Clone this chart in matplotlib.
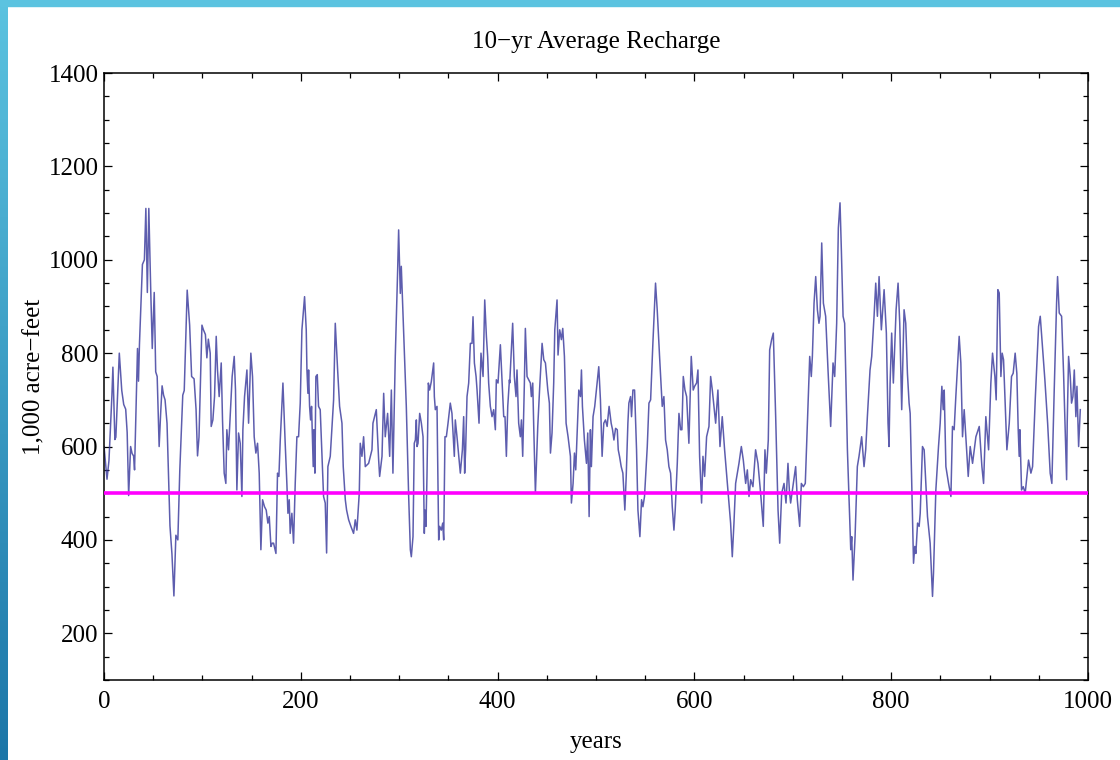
import numpy as np
import matplotlib
matplotlib.use("Agg")
import matplotlib.pyplot as plt
from matplotlib.ticker import MultipleLocator
from matplotlib.patches import Rectangle

plt.rcParams['font.family'] = ['Liberation Serif', 'DejaVu Serif']

# 10-yr moving average of recharge (years, 1,000 acre-feet)
years = [0, 3, 5, 8, 9, 11, 12, 15.5, 17, 18, 20, 22, 23.5, 25, 27, 28.5, 30, 31, 34, 35, 36, 39, 41, 42.5, 44,
         45.5, 47.5, 49, 51, 52.5, 54, 56, 57.5, 59, 60.5, 62, 64, 67, 69, 71, 73, 75, 77, 80, 81.5, 84.5, 87,
         89, 91.5, 93.5, 95, 96.5, 99.5, 101, 103, 104.5, 106,
         107.9, 108.9, 110.6, 112.3, 114, 115.3, 117, 119.1, 120.4, 122.1, 123.8, 124.8, 126.5, 128.2, 130.2,
         132.3, 133.6, 135, 136.7, 138.4, 140.1, 141.1, 142.8, 145.2, 146.9, 149.2, 150.9, 152.6, 154.3, 156,
         157.7, 159.4, 161.1, 163.1, 164.8, 166.5, 167.9, 169.6, 170.9, 172.3, 174.7, 176.3, 177.7, 179.1,
         181.8, 184.1, 185.8, 186.9, 188.2, 189.2, 190.9, 192.6, 194.3, 196, 197.7, 199.4, 201.1, 203.8,
         205.5, 206.2, 207.2, 207.9, 208.9, 209.9, 210.9, 211.6, 212.6, 213.3, 214.3, 215.3, 216.7, 218,
         219.7, 221.4, 223.1, 224.8, 226.2, 227.5, 229.9, 233.3, 235, 237.4, 239.4, 241.8, 243.1, 245.2,
         246.5, 248.6, 250.9, 253.6, 255.3, 257, 259.4, 260.4, 262.1, 263.8, 265.5, 268.9, 272.3, 273.3,
         276.7, 279.1, 280.1, 282.5, 284.2, 285.8, 288.2, 290.3, 292, 293.6, 296, 298.4, 299.4, 301.1,
         302.1, 305.2, 307.2, 309.6, 311.3, 312.3, 314, 315.3, 316.4, 317.4, 318.1, 319.1, 320.8, 322.5,
         324.2, 325.5, 326.2, 327.2, 328.2, 329.6, 330.9, 332.6, 335, 335.7, 336.7, 338.4, 340.1, 341.1,
         342.8, 344.2, 345.2, 346.5, 347.9, 349.6, 351.9, 353.6, 356, 357, 358.7, 362.1, 364.2, 365.5,
         366.5, 367.5, 368.9, 370.6, 372.3, 374, 375, 376.4, 378.1, 379.1, 381.1, 383.1, 385.2, 386.9,
         388.6, 389.9, 390.9, 392.6, 394.3, 396, 397.7, 398.7, 400.4, 402.8, 404.5, 406.2, 407.5, 408.9,
         410.3, 412, 412.3, 414, 415.3, 417, 418.7, 419.7, 421.4, 423.1, 424.2, 425.5, 427.2, 428.2,
         429.9, 431.6, 433.3, 434.3, 435.7, 436.7, 438.4, 440.8, 442.8, 445.2, 446.9, 448.6, 451, 452.6,
         453.7, 455.3, 457, 458.1, 460.4, 461.4, 463.1, 464.8, 466.2, 467.9, 469.6, 471.6, 474, 475,
         476.7, 478.1, 479.4, 480.8, 482.5, 484.2, 485.2, 486.2, 488.2, 490.3, 491.6, 493, 494.3, 495.3,
         497, 498.7, 500.4, 502.8, 504.5, 506.2, 507.9, 509.6, 511.3, 513.3,
         515.4, 516.8, 518.2, 519.9, 521.6, 522.6, 523.9, 525.6, 527.3, 529.3, 530.7, 532.4, 533.4, 535.1,
         536.1, 537.5, 539.2, 541.2, 542.6, 544.6, 546.3, 547.7, 549.3, 552.1, 553.8, 555.5, 557.8, 560.5,
         562.2, 564.6, 567.3, 569, 570.7, 572.4, 574.1, 575.8, 577.5, 579.2, 580.5, 582.6, 584.3, 586,
         587.3, 588.7, 590.4, 592.1, 594.4, 596.8, 598.8, 600.2, 602.2, 603.6, 605.3, 607.3, 608.7, 610.4,
         612.4, 614.8, 616.5, 618.2, 621.6, 623.9, 626, 628.3, 630.7, 634.1, 636.8, 638.5, 640.2, 641.9,
         643.6, 645.3, 647.7, 649.7, 652.1, 653.8, 655.5, 657.2, 659.5, 662.2, 664.6, 667.3, 670, 671.7,
         673.1, 675.1, 676.5, 678.5, 680.2, 682.6, 685, 686.7, 688.7, 691.1, 693.1, 695.1, 696.5, 697.8,
         702.9, 704.6, 707, 708.7, 710.7, 712.7, 714.8, 717.2, 718.8, 719.9, 721.6, 723.3, 725, 726.6,
         727.7, 729.4, 731.1, 733.4, 735.8, 738.5, 740.9, 742.6, 744.6, 746.3, 748, 749.4, 751.1, 752.7,
         755.5, 758.9, 759.9, 761.2, 763.3, 765.6, 767.3, 770, 772.4, 774.1, 775.8, 778.5, 780.2, 782.6,
         784.3, 786, 787.7, 790, 792.8, 795.1, 796.8, 797.8, 798.9, 800.5, 802.2, 805, 807, 808.7, 810.7,
         813.1, 814.8, 816.5, 818.2, 819.3, 821, 822.7, 824, 825.1, 826.8, 828.4, 829.5, 831.8, 833.5,
         836.9, 839.6, 842, 843, 845.4, 848.1, 849.8, 851.5, 852.9, 853.9, 855.6, 858.3, 860.7, 862.3,
         864, 865.7, 869.1, 870.8, 872.5, 874.2, 878.3, 880.3, 882.7, 886.1, 889.5, 892.2, 893.9, 896.2,
         897.9, 899, 901.3, 903, 905.4, 906.7, 908.4, 909.8, 911.5, 912.8, 914.2, 915.5, 917.6, 920,
         922.3, 924, 926, 927.7, 929.1, 930.1, 930.8, 932.5, 934.2, 936.2, 939.6, 942, 943.7, 946.4,
         949.8, 951.5, 956.2, 959, 961.6, 963.3, 964, 965.7, 968.1, 969.1, 970.8, 973.2, 975.2, 978.3,
         978.9, 980.3, 982, 983.3, 984.7, 986.1, 987.7, 988.8, 990.5, 992.2]

recharge = [600, 530, 570, 710, 770, 615, 620, 800, 750, 720, 690, 680, 630, 495, 600, 585, 580, 550, 810, 740,
            820, 990, 1000, 1110, 930, 1110, 930, 810, 930, 760, 750, 600, 670, 730, 710, 700, 650, 430, 370,
            280, 410, 400, 550, 710, 720, 935, 860, 750, 745, 680, 580, 620, 860, 850, 840, 790, 830,
            800, 643, 657, 707, 836, 764, 707, 779, 657, 543, 521, 636, 593, 664, 750,
            793, 721, 507, 629, 607, 493, 636, 707, 764, 650, 800, 750, 621, 586, 607,
            543, 379, 486, 471, 464, 436, 450, 386, 393, 393, 371, 543, 536, 614,
            736, 607, 521, 457, 486, 414, 457, 393, 521, 621, 621, 693, 850, 921,
            850, 764, 714, 764, 686, 657, 686, 636, 557, 636, 543, 750, 754, 686,
            679, 586, 493, 479, 372, 557, 579, 700, 864, 764, 686, 650, 557, 486,
            464, 443, 429, 414, 443, 421, 500, 607, 579, 621, 557, 564, 593, 650,
            679, 571, 536, 579, 714, 621, 671, 579, 721, 543, 793, 978, 1064, 928,
            986, 800, 686, 493, 379, 364, 407, 607, 614, 657, 600, 607, 671, 650,
            621, 414, 464, 429, 536, 736, 721, 739, 779, 707, 679, 686, 400, 429,
            421, 436, 400, 621, 621, 650, 693, 671, 579, 657, 621, 543, 593, 664,
            543, 593, 707, 736, 821, 821, 878, 779, 750, 721, 650, 800, 750, 914,
            836, 793, 736, 686, 664, 679, 636, 743, 736, 818, 743, 664, 664, 579,
            686, 743, 736, 807, 864, 750, 707, 764, 650, 621, 657, 579, 736, 853,
            750, 743, 736, 707, 736, 643, 500, 643, 728, 821, 786, 779, 721, 693,
            586, 629, 736, 850, 914, 796, 850, 829, 853, 793, 650, 621, 579, 479,
            521, 586, 550, 629, 721, 707, 764, 686, 614, 564, 629, 450, 636, 557,
            664, 686, 721, 771, 700, 579, 650, 657, 643, 686,
            650, 636, 614, 639, 636, 593, 579, 557, 543, 464, 536, 650, 693, 707,
            664, 721, 721, 593, 464, 407, 486, 471, 493, 600, 693, 700, 821, 950,
            893, 793, 686, 707, 614, 593, 557, 543, 471, 421, 464, 564, 671, 636,
            636, 750, 721, 707, 607, 793, 721, 729, 736, 764, 579, 479, 579, 536,
            621, 643, 750, 721, 650, 721, 600, 664, 593, 507, 436, 364, 436, 521,
            543, 564, 600, 571, 521, 550, 493, 529, 514, 593, 564, 500, 429, 593,
            543, 614, 807, 829, 843, 664, 464, 393, 500, 521, 479, 564, 507, 479,
            557, 486, 429, 521, 514, 521, 650, 793, 750, 793, 907, 964, 893, 864,
            879, 1036, 907, 879, 764, 643, 779, 750, 864, 1068, 1122, 1018, 879, 864,
            593, 379, 407, 314, 407, 557, 579, 621, 557, 593, 664, 764, 793, 879,
            950, 879, 964, 850, 936, 843, 650, 600, 736, 843, 736, 893, 950, 864, 679,
            893, 864, 757, 693, 671, 507, 350, 386, 371, 436, 429, 457, 600, 593,
            450, 393, 279, 329, 507, 600, 650, 729, 679, 721, 557, 521, 493, 643,
            636, 707, 836, 779, 621, 679, 536, 600, 564, 621, 643, 557, 521, 664,
            621, 593, 736, 800, 750, 700, 936, 929, 750, 800, 786, 714, 593, 650,
            750, 757, 800, 757, 636, 579, 636, 507, 514, 500, 571, 543, 557, 700,
            857, 879, 743, 650, 543, 521, 579, 721, 907, 964, 886, 879, 757, 529,
            650, 793, 750, 693, 707, 764, 664, 729, 600, 679]

threshold = 500

fig = plt.figure(figsize=(11.2, 7.6), dpi=100)
ax = fig.add_axes([0.0929, 0.1053, 0.8785, 0.7986])

ax.plot(years, recharge, color='#35359a', lw=1.1, alpha=0.8, zorder=2)
ax.axhline(threshold, color='#ff00ff', lw=2.6, zorder=3)

ax.set_xlim(0, 1000)
ax.set_ylim(100, 1400)
ax.xaxis.set_major_locator(MultipleLocator(200))
ax.xaxis.set_minor_locator(MultipleLocator(50))
ax.yaxis.set_major_locator(MultipleLocator(200))
ax.yaxis.set_minor_locator(MultipleLocator(50))
ax.set_yticks([200, 400, 600, 800, 1000, 1200, 1400])
ax.tick_params(which='both', direction='in', top=True, right=True, labelsize=18, width=0.9)
ax.tick_params(axis='x', pad=8)
ax.tick_params(axis='y', pad=4)
ax.tick_params(which='major', length=6)
ax.tick_params(which='minor', length=3.5)
for s in ax.spines.values():
    s.set_linewidth(1.1)

ax.set_title('10\u2212yr Average Recharge', fontsize=18, pad=18)
ax.set_xlabel('years', fontsize=18, labelpad=13)
ax.set_ylabel('1,000 acre\u2212feet', fontsize=18, labelpad=2)

# slide frame: light blue strip on top, gradient strip on the left
fig.patches.append(Rectangle((0, 1 - 6 / 760), 1, 6 / 760, transform=fig.transFigure,
                             color='#5bc3e0', zorder=0))
bar = fig.add_axes([0, 0, 8 / 1120, 1])
grad = np.linspace(0, 1, 256).reshape(-1, 1)
bar.imshow(grad, aspect='auto', cmap=matplotlib.colors.LinearSegmentedColormap.from_list(
    'edge', ['#5bc3e0', '#1c76a8']))
bar.axis('off')

fig.savefig('out.png', dpi=100)
